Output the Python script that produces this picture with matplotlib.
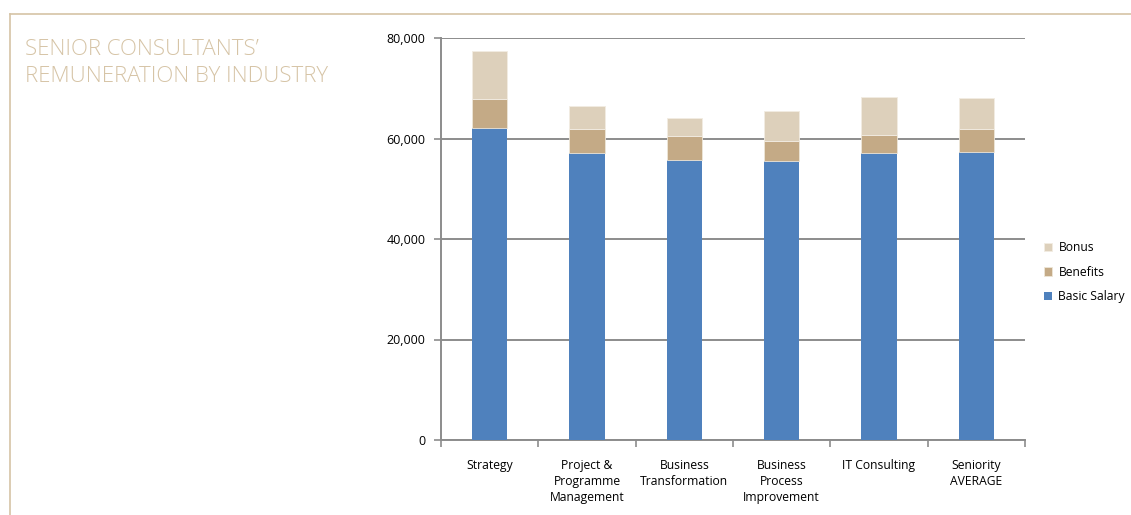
import matplotlib.pyplot as plt
import matplotlib.lines as mlines
import numpy as np

categories = ['Strategy', 'Project &\nProgramme\nManagement', 'Business\nTransformation',
              'Business\nProcess\nImprovement', 'IT Consulting', 'Seniority\nAVERAGE']
basic_salary = [62100, 57200, 55700, 55500, 57200, 57400]
benefits = [5800, 4600, 4800, 4100, 3500, 4500]
bonus = [9600, 4700, 3500, 5900, 7600, 6200]

c_basic = '#4f81bd'
c_benefits = '#c4aa86'
c_bonus = '#ddd0bb'
beige = '#d6c4a6'

plt.rcParams['font.family'] = ['Open Sans', 'DejaVu Sans']

fig = plt.figure(figsize=(11.31, 5.15), dpi=100)
ax = fig.add_axes([441 / 1131, 1 - 440 / 515, 584 / 1131, 402 / 515])

x = np.arange(len(categories))
w = 0.36
b1 = ax.bar(x, basic_salary, w, color=c_basic, label='Basic Salary', zorder=3)
bot2 = np.array(basic_salary)
b2 = ax.bar(x, benefits, w, bottom=bot2, color=c_benefits, label='Benefits', zorder=3,
            edgecolor='#eee6d8', linewidth=0.6)
bot3 = bot2 + np.array(benefits)
b3 = ax.bar(x, bonus, w, bottom=bot3, color=c_bonus, label='Bonus', zorder=3,
            edgecolor='#f2ece2', linewidth=0.6)

ax.set_xlim(-0.5, len(categories) - 0.5)
ax.set_ylim(0, 80000)
ax.set_yticks([0, 20000, 40000, 60000, 80000])
ax.set_yticklabels(['0', '20,000', '40,000', '60,000', '80,000'], fontsize=9)
ax.yaxis.grid(True, color='#8c8c8c', linewidth=1.4, zorder=0)
ax.set_xticks(x)
ax.set_xticklabels(categories, fontsize=8.7, linespacing=1.3)
ax.tick_params(axis='x', length=0, pad=14)
ax.set_xticks(np.arange(-0.5, len(categories), 1), minor=True)
ax.tick_params(axis='x', which='minor', length=5, color='#8c8c8c', width=1.2)
ax.tick_params(axis='y', length=5, color='#8c8c8c', width=1.2, pad=6)

for s in ['top', 'right']:
    ax.spines[s].set_visible(False)
for s in ['left', 'bottom']:
    ax.spines[s].set_color('#8c8c8c')
    ax.spines[s].set_linewidth(1.4)

leg = fig.legend(handles=[b3, b2, b1], labels=['Bonus', 'Benefits', 'Basic Salary'],
                 loc='center left', bbox_to_anchor=(1033 / 1131, 1 - 272 / 515),
                 frameon=False, fontsize=8.7, handlelength=0.7, handleheight=0.7,
                 handletextpad=0.5, labelspacing=0.95)

# beige frame lines
fig.add_artist(mlines.Line2D([10 / 1131, 1], [1 - 14 / 515] * 2, color=beige, linewidth=1.2))
fig.add_artist(mlines.Line2D([10 / 1131] * 2, [0, 1 - 14 / 515], color=beige, linewidth=1.2))

fig.text(25 / 1131, 1 - 63 / 515, 'SENIOR CONSULTANTS\u2019\nREMUNERATION BY INDUSTRY',
         color=beige, fontsize=16.0, fontweight='light', va='center', ha='left', linespacing=1.35)

fig.savefig('out.png', dpi=100)
